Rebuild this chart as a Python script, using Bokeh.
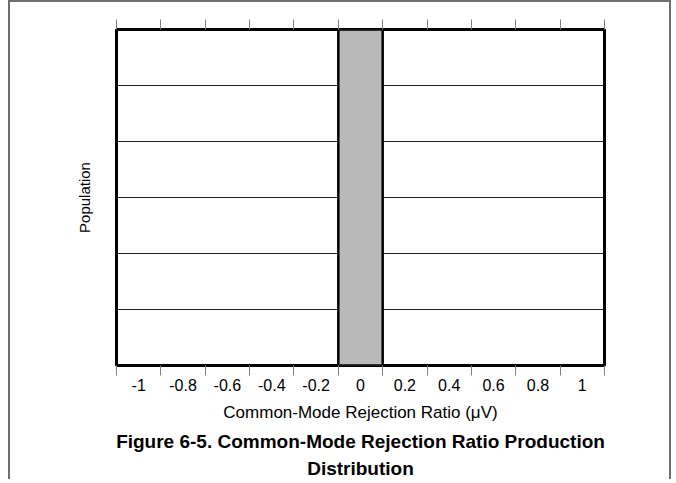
from bokeh.plotting import figure
from bokeh.models import FixedTicker, LinearAxis, Title, Range1d, ColumnDataSource
from bokeh.embed import file_html
from bokeh.resources import INLINE

# ---- data ----
bin_centers = [-1.0, -0.8, -0.6, -0.4, -0.2, 0.0, 0.2, 0.4, 0.6, 0.8, 1.0]
population = [0, 0, 0, 0, 0, 6, 0, 0, 0, 0, 0]
bin_width = 0.2
bin_edges = [-1.1, -0.9, -0.7, -0.5, -0.3, -0.1, 0.1, 0.3, 0.5, 0.7, 0.9, 1.1]
tick_labels = ["-1", "-0.8", "-0.6", "-0.4", "-0.2", "0", "0.2", "0.4", "0.6", "0.8", "1"]
y_grid = [1, 2, 3, 4, 5]
x_label = "Common-Mode Rejection Ratio (\u03bcV)"
y_label = "Population"
caption_lines = ["Figure 6-5. Common-Mode Rejection Ratio Production", "Distribution"]

FONT = "Liberation Sans"
BORDER = "2px solid #6e6e6e"

W, H = 663, 479
FRAME_L, FRAME_R, FRAME_T, FRAME_B = 106, 594, 27, 363
p = figure(width=W, height=H, output_backend="svg", toolbar_location=None,
           x_range=Range1d(bin_edges[0], bin_edges[-1]), y_range=Range1d(0, 6),
           min_border_left=FRAME_L, min_border_right=W - FRAME_R,
           min_border_top=FRAME_T, min_border_bottom=H - FRAME_B,
           styles={"margin-left": "8px",
                   "border-top": BORDER, "border-left": BORDER, "border-right": BORDER})
p.background_fill_color = "white"
p.border_fill_color = "white"
p.outline_line_color = "black"
p.outline_line_width = 3

# histogram bars (only non-empty bins drawn)
xs = [c for c, v in zip(bin_centers, population) if v > 0]
tops = [v for v in population if v > 0]
src = ColumnDataSource(dict(x=xs, top=tops))
p.vbar(x="x", top="top", bottom=0, width=bin_width, source=src,
       fill_color="#b9b9b9", line_color="black", line_width=2.5)

# grid
p.xgrid.visible = False
p.ygrid.ticker = FixedTicker(ticks=y_grid)
p.ygrid.grid_line_color = "#222222"
p.ygrid.grid_line_width = 1

# bottom axis: labels at bin centres, ticks at bin edges
xa = p.xaxis[0]
xa.ticker = FixedTicker(ticks=bin_centers, minor_ticks=bin_edges)
xa.major_label_overrides = {c: l for c, l in zip(bin_centers, tick_labels)}
xa.major_tick_line_color = None
xa.major_tick_out = 0
xa.major_tick_in = 0
xa.minor_tick_out = 10
xa.minor_tick_in = 0
xa.minor_tick_line_color = "#808080"
xa.minor_tick_line_width = 1
xa.axis_line_color = None
xa.major_label_standoff = 3
xa.major_label_text_font = FONT
xa.major_label_text_font_size = "16px"
xa.major_label_text_color = "black"
xa.axis_label = x_label
xa.axis_label_text_font = FONT
xa.axis_label_text_font_size = "17px"
xa.axis_label_text_font_style = "normal"
xa.axis_label_text_color = "black"
xa.axis_label_standoff = 9

# top axis (edge ticks only, labels not drawn)
ta = LinearAxis(ticker=FixedTicker(ticks=bin_edges))
ta.major_label_text_color = None
ta.major_label_text_font_size = "1px"
ta.major_label_standoff = 0
ta.major_tick_out = 10
ta.major_tick_in = 0
ta.major_tick_line_color = "#808080"
ta.minor_tick_line_color = None
ta.axis_line_color = None
p.add_layout(ta, "above")

# left axis (title only)
ya = p.yaxis[0]
ya.ticker = FixedTicker(ticks=[])
ya.major_tick_line_color = None
ya.minor_tick_line_color = None
ya.axis_line_color = None
ya.major_label_standoff = 0
ya.axis_label = y_label
ya.axis_label_text_font = FONT
ya.axis_label_text_font_size = "15px"
ya.axis_label_text_font_style = "normal"
ya.axis_label_text_color = "black"
ya.axis_label_standoff = 24

# caption
for i, line in enumerate(caption_lines):
    t = Title(text=line, align="center", text_font=FONT, text_font_size="19px",
              text_font_style="bold", text_color="black",
              standoff=8 if i == 0 else 0)
    p.add_layout(t, "below")

open("out.html", "w").write(file_html(p, INLINE))
